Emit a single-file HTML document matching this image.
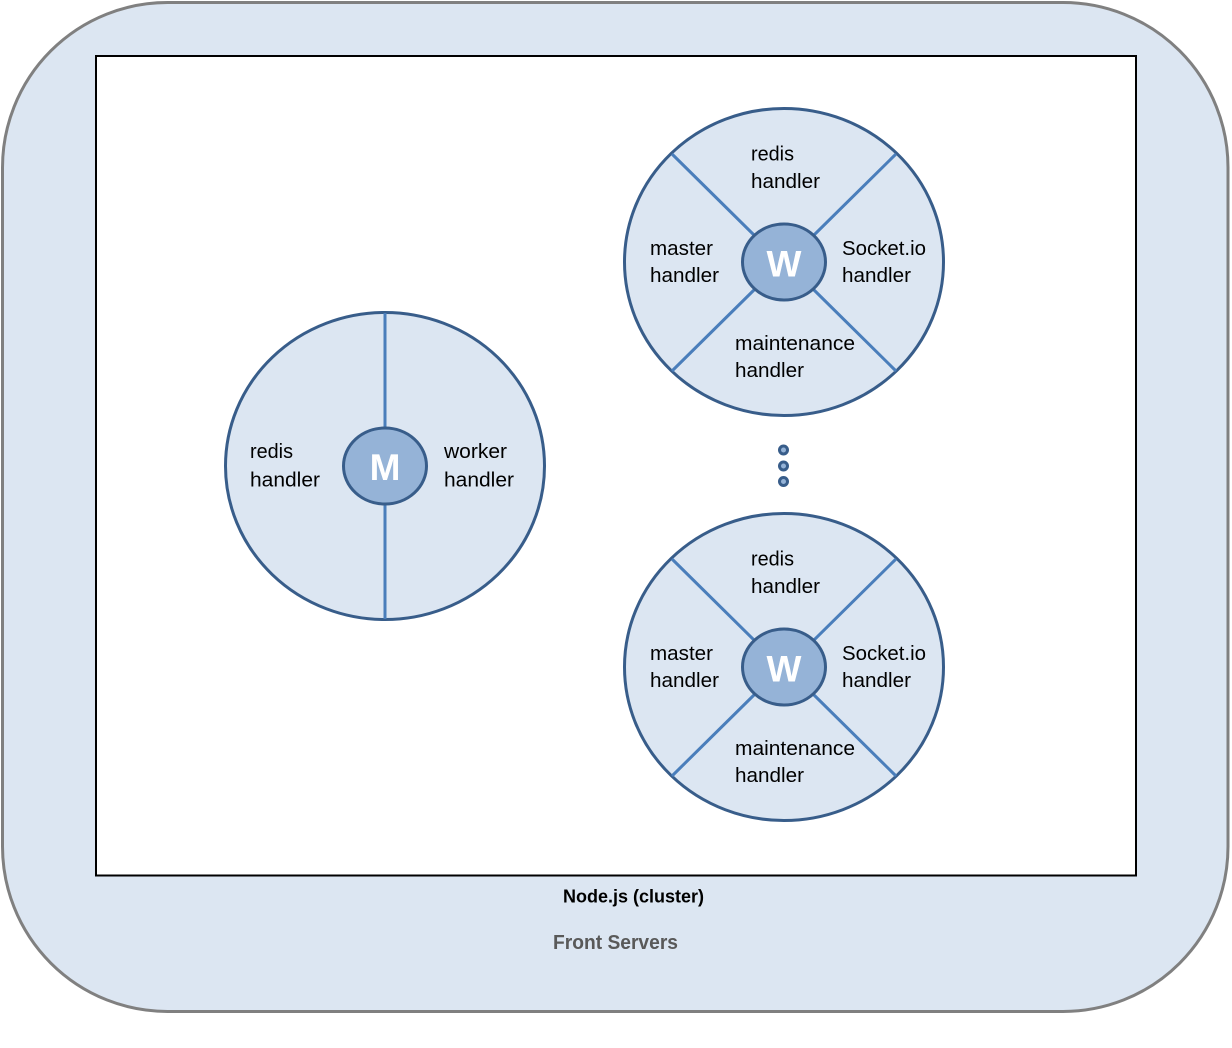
<!DOCTYPE html>
<html>
<head>
<meta charset="utf-8">
<style>
  html, body { margin:0; padding:0; background:#ffffff; }
  svg { display:block; }
  text { font-family: "Liberation Sans", "DejaVu Sans", sans-serif; }
</style>
</head>
<body>
<svg width="1232" height="1048" viewBox="0 0 1232 1048" xmlns="http://www.w3.org/2000/svg">
  <!-- Outer rounded container -->
  <rect x="2.5" y="2.5" width="1225.5" height="1009" rx="165" ry="165" fill="#dce6f2" stroke="#808080" stroke-width="3"/>
  <!-- Inner white box -->
  <rect x="96" y="56" width="1040" height="819.5" fill="#ffffff" stroke="#000000" stroke-width="2"/>

  <!-- Master circle -->
  <g>
    <ellipse cx="385" cy="466" rx="159.5" ry="153.5" fill="#dce6f2" stroke="#385d8a" stroke-width="3"/>
    <line x1="385" y1="313" x2="385" y2="428" stroke="#4a7ebb" stroke-width="3"/>
    <line x1="385" y1="504" x2="385" y2="619" stroke="#4a7ebb" stroke-width="3"/>
    <ellipse cx="385" cy="466" rx="41.5" ry="38" fill="#95b3d7" stroke="#385d8a" stroke-width="3"/>
    <text x="385" y="480" font-size="37" font-weight="bold" fill="#ffffff" text-anchor="middle">M</text>
    <text x="250" y="458" font-size="20" fill="#000" textLength="43" lengthAdjust="spacingAndGlyphs">redis</text>
    <text x="250" y="486.5" font-size="20" fill="#000" textLength="70" lengthAdjust="spacingAndGlyphs">handler</text>
    <text x="444" y="458" font-size="20" fill="#000" textLength="63" lengthAdjust="spacingAndGlyphs">worker</text>
    <text x="444" y="486.5" font-size="20" fill="#000" textLength="70" lengthAdjust="spacingAndGlyphs">handler</text>
  </g>

  <!-- Worker circle (top) -->
  <g id="w1">
    <ellipse cx="784" cy="262" rx="159.5" ry="153.5" fill="#dce6f2" stroke="#385d8a" stroke-width="3"/>
    <line x1="672" y1="154" x2="755" y2="236" stroke="#4a7ebb" stroke-width="3"/>
    <line x1="896" y1="154" x2="813" y2="236" stroke="#4a7ebb" stroke-width="3"/>
    <line x1="672" y1="371" x2="755" y2="289" stroke="#4a7ebb" stroke-width="3"/>
    <line x1="896" y1="371" x2="813" y2="289" stroke="#4a7ebb" stroke-width="3"/>
    <ellipse cx="784" cy="262" rx="41.5" ry="38" fill="#95b3d7" stroke="#385d8a" stroke-width="3"/>
    <text x="784" y="276.5" font-size="37" font-weight="bold" fill="#ffffff" text-anchor="middle">W</text>
    <text x="751" y="160.5" font-size="20" fill="#000" textLength="43" lengthAdjust="spacingAndGlyphs">redis</text>
    <text x="751" y="188" font-size="20" fill="#000" textLength="69" lengthAdjust="spacingAndGlyphs">handler</text>
    <text x="650" y="255" font-size="20" fill="#000" textLength="63" lengthAdjust="spacingAndGlyphs">master</text>
    <text x="650" y="282" font-size="20" fill="#000" textLength="69" lengthAdjust="spacingAndGlyphs">handler</text>
    <text x="842" y="255" font-size="20" fill="#000" textLength="84" lengthAdjust="spacingAndGlyphs">Socket.io</text>
    <text x="842" y="282" font-size="20" fill="#000" textLength="69" lengthAdjust="spacingAndGlyphs">handler</text>
    <text x="735" y="350" font-size="20" fill="#000" textLength="120" lengthAdjust="spacingAndGlyphs">maintenance</text>
    <text x="735" y="377" font-size="20" fill="#000" textLength="69" lengthAdjust="spacingAndGlyphs">handler</text>
  </g>

  <!-- Worker circle (bottom) -->
  <g transform="translate(0,405)">
    <ellipse cx="784" cy="262" rx="159.5" ry="153.5" fill="#dce6f2" stroke="#385d8a" stroke-width="3"/>
    <line x1="672" y1="154" x2="755" y2="236" stroke="#4a7ebb" stroke-width="3"/>
    <line x1="896" y1="154" x2="813" y2="236" stroke="#4a7ebb" stroke-width="3"/>
    <line x1="672" y1="371" x2="755" y2="289" stroke="#4a7ebb" stroke-width="3"/>
    <line x1="896" y1="371" x2="813" y2="289" stroke="#4a7ebb" stroke-width="3"/>
    <ellipse cx="784" cy="262" rx="41.5" ry="38" fill="#95b3d7" stroke="#385d8a" stroke-width="3"/>
    <text x="784" y="276.5" font-size="37" font-weight="bold" fill="#ffffff" text-anchor="middle">W</text>
    <text x="751" y="160.5" font-size="20" fill="#000" textLength="43" lengthAdjust="spacingAndGlyphs">redis</text>
    <text x="751" y="188" font-size="20" fill="#000" textLength="69" lengthAdjust="spacingAndGlyphs">handler</text>
    <text x="650" y="255" font-size="20" fill="#000" textLength="63" lengthAdjust="spacingAndGlyphs">master</text>
    <text x="650" y="282" font-size="20" fill="#000" textLength="69" lengthAdjust="spacingAndGlyphs">handler</text>
    <text x="842" y="255" font-size="20" fill="#000" textLength="84" lengthAdjust="spacingAndGlyphs">Socket.io</text>
    <text x="842" y="282" font-size="20" fill="#000" textLength="69" lengthAdjust="spacingAndGlyphs">handler</text>
    <text x="735" y="350" font-size="20" fill="#000" textLength="120" lengthAdjust="spacingAndGlyphs">maintenance</text>
    <text x="735" y="377" font-size="20" fill="#000" textLength="69" lengthAdjust="spacingAndGlyphs">handler</text>
  </g>

  <!-- Ellipsis dots -->
  <circle cx="783.5" cy="450" r="4" fill="#95b3d7" stroke="#385d8a" stroke-width="3"/>
  <circle cx="783.5" cy="466" r="4" fill="#95b3d7" stroke="#385d8a" stroke-width="3"/>
  <circle cx="783.5" cy="481.5" r="4" fill="#95b3d7" stroke="#385d8a" stroke-width="3"/>

  <!-- Labels -->
  <text x="563" y="902.5" font-size="18" font-weight="bold" fill="#000" textLength="141" lengthAdjust="spacingAndGlyphs">Node.js (cluster)</text>
  <text x="553" y="949" font-size="20" font-weight="bold" fill="#595959" textLength="125" lengthAdjust="spacingAndGlyphs">Front Servers</text>
</svg>
</body>
</html>
